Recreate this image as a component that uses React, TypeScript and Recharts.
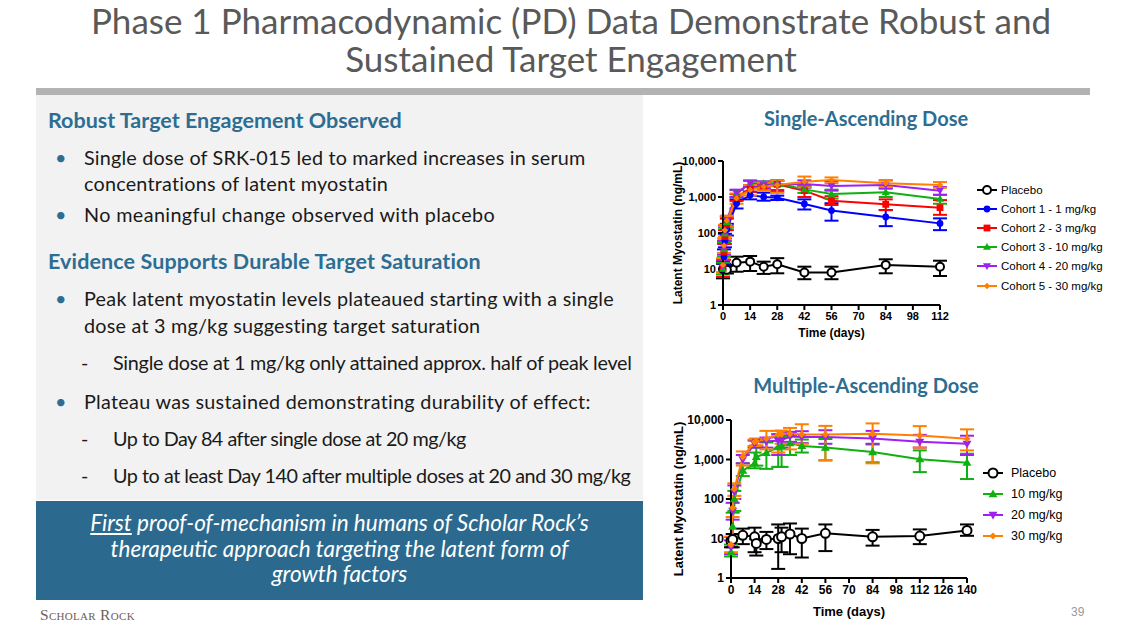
import React from 'react';
import { LineChart, Line, XAxis, YAxis, ErrorBar, Legend } from 'recharts';

// each point: [day, mean, low, high] (ng/mL)
const sadPlacebo = [
  [0, 10, 5.5, 14], [2, 9.5, 7.5, 13], [7, 15, 8.4, 22], [14, 16, 8.8, 23], [21, 11.5, 7.3, 16],
  [28, 13.5, 7.6, 20], [42, 8, 5.2, 11.6], [56, 8, 5.2, 11.6], [84, 13, 7.6, 18.6], [112, 11.5, 6.4, 17],
];
const sadCohort1 = [
  [0, 10, 6, 16], [0.5, 22, 14, 35], [1, 62, 40, 95], [2, 125, 85, 180], [7, 660, 480, 860],
  [14, 1130, 860, 1400], [21, 1000, 790, 1320], [28, 950, 825, 1090], [42, 640, 450, 860],
  [56, 420, 220, 670], [84, 280, 155, 435], [112, 185, 120, 255],
];
const sadCohort2 = [
  [0, 11, 6, 18], [0.5, 30, 18, 50], [1, 80, 50, 120], [2, 175, 120, 250], [7, 960, 780, 1200],
  [14, 1740, 1400, 2150], [21, 2060, 1750, 2400], [28, 2240, 1560, 2800], [42, 1500, 1000, 2000],
  [56, 790, 600, 1050], [84, 625, 430, 860], [112, 505, 320, 820],
];
const sadCohort3 = [
  [0, 10, 7, 15], [0.5, 35, 22, 55], [1, 95, 60, 140], [2, 200, 140, 280], [7, 1260, 1000, 1550],
  [14, 2400, 2000, 2800], [21, 2400, 2100, 2700], [28, 2400, 2000, 2800], [42, 1630, 1300, 2000],
  [56, 1210, 900, 1600], [84, 1350, 1000, 1800], [112, 880, 650, 1150],
];
const sadCohort4 = [
  [0, 12, 8, 18], [0.5, 40, 25, 60], [1, 110, 70, 160], [2, 230, 160, 300], [7, 1260, 1000, 1600],
  [14, 2400, 1900, 2900], [21, 2150, 1700, 2700], [28, 2150, 1400, 2900], [42, 2300, 1800, 2900],
  [56, 2020, 1500, 2700], [84, 2150, 1700, 2900], [112, 1500, 1150, 1900],
];
const sadCohort5 = [
  [0, 13, 8, 20], [0.5, 45, 28, 70], [1, 120, 80, 170], [2, 220, 150, 300], [7, 920, 650, 1250],
  [14, 1560, 1100, 2150], [21, 1940, 1500, 2500], [28, 2150, 1300, 2800], [42, 2670, 1850, 3700],
  [56, 2950, 2400, 3500], [84, 2400, 1900, 2900], [112, 2150, 1800, 2600],
];

const madPlacebo = [
  [0, 8.5, 6, 11], [1, 9.5, 6, 13], [7, 12, 7.2, 17.8], [14, 11, 4.5, 18.8], [15, 7.5, 3.7, 9.6],
  [21, 9.5, 5.4, 14.7], [28, 10, 1.7, 22.7], [30, 11, 4.5, 18.8], [35, 13, 4, 24], [42, 10, 3.3, 17.8],
  [56, 13.5, 4.8, 22.7], [84, 11, 6.6, 16.5], [112, 11.5, 7.2, 17], [140, 16, 11.7, 22.7],
];
const mad10 = [
  [0, 4.5, 3.5, 7], [1, 20, 10, 45], [2, 100, 50, 160], [7, 520, 380, 800], [14, 800, 600, 1500],
  [15, 1160, 700, 2000], [21, 1470, 580, 2700], [28, 2070, 650, 3800], [30, 2200, 650, 3600],
  [35, 2620, 1300, 4000], [42, 2200, 1500, 3200], [56, 2000, 950, 3300], [84, 1550, 850, 2400],
  [112, 1020, 480, 1700], [140, 830, 320, 1400],
];
const mad20 = [
  [0, 6, 4, 9], [1, 50, 30, 80], [2, 150, 100, 220], [7, 1000, 800, 1300], [14, 2500, 2000, 3000],
  [15, 2800, 2200, 3300], [21, 2900, 2000, 3600], [28, 3000, 1300, 4400], [30, 3100, 2000, 4200],
  [35, 3800, 2800, 5000], [42, 3700, 2600, 5200], [56, 3700, 2500, 5500], [84, 3400, 2500, 5300],
  [112, 2800, 2000, 4200], [140, 2500, 1300, 4000],
];
const mad30 = [
  [0, 7, 4.5, 11], [1, 60, 35, 100], [2, 180, 120, 250], [7, 1170, 700, 1600], [14, 2770, 2200, 3200],
  [15, 2900, 2300, 3400], [21, 3350, 1800, 5300], [28, 4300, 1500, 5300], [30, 4400, 2500, 5400],
  [35, 4460, 1800, 6300], [42, 4300, 2500, 7800], [56, 4300, 950, 7100], [84, 4460, 800, 8200],
  [112, 4060, 2000, 7000], [140, 3350, 1700, 5800],
];

const sadTicks = [0, 14, 28, 42, 56, 70, 84, 98, 112];
const madTicks = [0, 14, 28, 42, 56, 70, 84, 98, 112, 126, 140];
const logTicks = [1, 10, 100, 1000, 10000];

const SLIDE_FONT = 'Lato, "Open Sans", sans-serif';
const CHART_FONT = '"Liberation Sans", Arial, sans-serif';
const HEAD_BLUE = '#2e6d92';

type Shape = 'open' | 'circle' | 'square' | 'up' | 'down' | 'diamond';
interface Series { name: string; color: string; shape: Shape; pts: number[][] }

const sadSeries: Series[] = [
  { name: 'Placebo', color: '#000000', shape: 'open', pts: sadPlacebo },
  { name: 'Cohort 1 - 1 mg/kg', color: '#0000ff', shape: 'circle', pts: sadCohort1 },
  { name: 'Cohort 2 - 3 mg/kg', color: '#ff0000', shape: 'square', pts: sadCohort2 },
  { name: 'Cohort 3 - 10 mg/kg', color: '#10b010', shape: 'up', pts: sadCohort3 },
  { name: 'Cohort 4 - 20 mg/kg', color: '#a020f0', shape: 'down', pts: sadCohort4 },
  { name: 'Cohort 5 - 30 mg/kg', color: '#ff8000', shape: 'diamond', pts: sadCohort5 },
];
const madSeries: Series[] = [
  { name: 'Placebo', color: '#000000', shape: 'open', pts: madPlacebo },
  { name: '10 mg/kg', color: '#10b010', shape: 'up', pts: mad10 },
  { name: '20 mg/kg', color: '#a020f0', shape: 'down', pts: mad20 },
  { name: '30 mg/kg', color: '#ff8000', shape: 'diamond', pts: mad30 },
];

const toRows = (pts: number[][]) =>
  pts.map(([day, v, lo, hi]) => ({ day, v, err: [v - lo, hi - v] }));

function Marker({ cx, cy, shape, color, r }: { cx: number; cy: number; shape: Shape; color: string; r: number }) {
  if (cx == null || cy == null) return null;
  switch (shape) {
    case 'open':
      return <circle cx={cx} cy={cy} r={r} fill="#fff" stroke={color} strokeWidth={2} />;
    case 'circle':
      return <circle cx={cx} cy={cy} r={r * 0.85} fill={color} />;
    case 'square':
      return <rect x={cx - r * 0.85} y={cy - r * 0.85} width={r * 1.7} height={r * 1.7} fill={color} />;
    case 'up':
      return <polygon points={`${cx},${cy - r} ${cx - r},${cy + r * 0.7} ${cx + r},${cy + r * 0.7}`} fill={color} />;
    case 'down':
      return <polygon points={`${cx},${cy + r} ${cx - r},${cy - r * 0.7} ${cx + r},${cy - r * 0.7}`} fill={color} />;
    default:
      return <polygon points={`${cx},${cy - r * 0.8} ${cx + r * 0.8},${cy} ${cx},${cy + r * 0.8} ${cx - r * 0.8},${cy}`} fill={color} />;
  }
}

const fmt = (n: number) => n.toLocaleString('en-US');

interface ChartProps {
  series: Series[];
  xMax: number;
  xTicks: number[];
  width: number;
  height: number;
  margin: { top: number; right: number; bottom: number; left: number };
  yWidth: number;
  xHeight: number;
  fontSize: number;
  labelSize: number;
  markerR: number;
  yLabelX: number;
  xLabelY: number;
  legendLeft: number;
  legendTop: number;
  legendRow: number;
  legendFont: number;
}

function PdChart(p: ChartProps) {
  const tick = { fill: '#000', fontSize: p.fontSize, fontWeight: 'bold', fontFamily: CHART_FONT };
  const axisLine = { stroke: '#000', strokeWidth: 2 };
  return (
    <LineChart width={p.width} height={p.height} margin={p.margin}>
      <XAxis
        type="number"
        dataKey="day"
        domain={[0, p.xMax]}
        ticks={p.xTicks}
        interval={0}
        height={p.xHeight}
        tick={tick}
        tickSize={5}
        axisLine={axisLine}
        tickLine={{ stroke: '#000', strokeWidth: 2 }}
        allowDuplicatedCategory={false}
        label={{
          content: ({ viewBox }: any) => (
            <text x={viewBox.x + viewBox.width / 2} y={p.xLabelY} textAnchor="middle" dominantBaseline="central"
              style={{ fontFamily: CHART_FONT, fontWeight: 'bold', fontSize: p.labelSize }} fill="#000">
              Time (days)
            </text>
          ),
        }}
      />
      <YAxis
        scale="log"
        domain={[1, 10000]}
        allowDataOverflow
        ticks={logTicks}
        interval={0}
        width={p.yWidth}
        tick={tick}
        tickSize={5}
        tickFormatter={fmt}
        axisLine={axisLine}
        tickLine={{ stroke: '#000', strokeWidth: 2 }}
        label={{
          content: ({ viewBox }: any) => {
            const cy = viewBox.y + viewBox.height / 2;
            return (
              <text x={p.yLabelX} y={cy} transform={`rotate(-90 ${p.yLabelX} ${cy})`} textAnchor="middle"
                dominantBaseline="central" style={{ fontFamily: CHART_FONT, fontWeight: 'bold', fontSize: p.labelSize }} fill="#000">
                Latent Myostatin (ng/mL)
              </text>
            );
          },
        }}
      />
      <Legend
        layout="vertical"
        align="center"
        verticalAlign="middle"
        wrapperStyle={{ left: p.legendLeft, top: p.legendTop, width: 160 }}
        content={() => (
          <div style={{ fontFamily: CHART_FONT, fontSize: p.legendFont, color: '#000' }}>
            {p.series.map((s) => (
              <div key={s.name} style={{ display: 'flex', alignItems: 'center', height: p.legendRow }}>
                <svg width={20} height={12} style={{ overflow: 'visible' }}>
                  <line x1={0} x2={20} y1={6} y2={6} stroke={s.color} strokeWidth={2} />
                  <Marker cx={10} cy={6} shape={s.shape} color={s.color} r={p.markerR} />
                </svg>
                <span style={{ marginLeft: p.legendFont > 12 ? 8 : 4 }}>{s.name}</span>
              </div>
            ))}
          </div>
        )}
      />
      {p.series.map((s) => (
        <Line
          key={s.name}
          name={s.name}
          data={toRows(s.pts)}
          dataKey="v"
          type="linear"
          stroke={s.color}
          strokeWidth={2}
          isAnimationActive={false}
          dot={(d: any) => (
            <Marker key={`${s.name}-${d.index}`} cx={d.cx} cy={d.cy} shape={s.shape} color={s.color} r={p.markerR} />
          )}
          activeDot={false}
        >
          <ErrorBar dataKey="err" direction="y" width={7} stroke={s.color} strokeWidth={2} isAnimationActive={false} />
        </Line>
      ))}
    </LineChart>
  );
}

function T({ x, cy, size, lh = 26, ls = 0, children, style }: any) {
  return (
    <div style={{ position: 'absolute', left: x, top: cy - lh / 2, lineHeight: `${lh}px`, fontSize: size, letterSpacing: ls, whiteSpace: 'nowrap', ...style }}>
      {children}
    </div>
  );
}

const bulletStyle = { color: HEAD_BLUE };
const bodySize = 19.8;
const headStyle = { color: HEAD_BLUE, fontWeight: 'bold' };

export default function App() {
  return (
    <div style={{ position: 'absolute', left: 0, top: 0, width: 1129, height: 635, background: '#fff', overflow: 'hidden', fontFamily: SLIDE_FONT, color: '#1a1a1a' }}>
      <div style={{ position: 'absolute', left: 0, top: 1, width: 1142, textAlign: 'center', fontSize: 35, lineHeight: '38px', color: '#595959' }}>
        Phase 1 Pharmacodynamic (PD) Data Demonstrate Robust and<br />Sustained Target Engagement
      </div>
      <div style={{ position: 'absolute', left: 36, top: 88, width: 1054, height: 7, background: '#b3b3b3' }} />
      <div style={{ position: 'absolute', left: 36, top: 95, width: 607, height: 405, background: '#f2f2f2' }} />

      <T x={48} cy={120} size={21.5} style={headStyle}>Robust Target Engagement Observed</T>
      <T x={55} cy={157} size={bodySize} style={bulletStyle}>•</T>
      <T x={84} cy={157} size={bodySize} ls={0.18}>Single dose of SRK-015 led to marked increases in serum</T>
      <T x={84} cy={183} size={bodySize} ls={0.22}>concentrations of latent myostatin</T>
      <T x={55} cy={214} size={bodySize} style={bulletStyle}>•</T>
      <T x={84} cy={214} size={bodySize} ls={0.38}>No meaningful change observed with placebo</T>
      <T x={48} cy={261} size={21.5} ls={0.12} style={headStyle}>Evidence Supports Durable Target Saturation</T>
      <T x={55} cy={298} size={bodySize} style={bulletStyle}>•</T>
      <T x={84} cy={298} size={bodySize} ls={0.25}>Peak latent myostatin levels plateaued starting with a single</T>
      <T x={84} cy={325} size={bodySize} ls={0.22}>dose at 3 mg/kg suggesting target saturation</T>
      <T x={81} cy={362} size={bodySize}>-</T>
      <T x={113} cy={362} size={bodySize} ls={-0.27}>Single dose at 1 mg/kg only attained approx. half of peak level</T>
      <T x={55} cy={401} size={bodySize} style={bulletStyle}>•</T>
      <T x={84} cy={401} size={bodySize} ls={0.28}>Plateau was sustained demonstrating durability of effect:</T>
      <T x={81} cy={438} size={bodySize}>-</T>
      <T x={113} cy={438} size={bodySize} ls={-0.5}>Up to Day 84 after single dose at 20 mg/kg</T>
      <T x={81} cy={475} size={bodySize}>-</T>
      <T x={113} cy={475} size={bodySize} ls={-0.47}>Up to at least Day 140 after multiple doses at 20 and 30 mg/kg</T>

      <div style={{ position: 'absolute', left: 36, top: 501, width: 607, height: 99, background: '#2b6a8e', color: '#fff', fontStyle: 'italic', fontSize: 22.5, lineHeight: '25.5px', textAlign: 'center', paddingTop: 9, boxSizing: 'border-box' }}>
        <u>First</u> proof-of-mechanism in humans of Scholar Rock’s<br />
        therapeutic approach targeting the latent form of<br />
        growth factors
      </div>
      <T x={40} cy={615} size={15.5} lh={20} style={{ fontFamily: '"Liberation Serif", serif', fontVariant: 'small-caps', color: '#6d6058', letterSpacing: 0.3 }}>Scholar Rock</T>
      <T x={1071} cy={612} size={12} lh={16} style={{ color: '#9a9a9a', fontFamily: CHART_FONT }}>39</T>

      <T x={0} cy={118} size={20} style={{ width: 1732, textAlign: 'center', ...headStyle }}>Single-Ascending Dose</T>
      <T x={0} cy={385} size={20} style={{ width: 1732, textAlign: 'center', ...headStyle }}>Multiple-Ascending Dose</T>

      <div style={{ position: 'absolute', left: 670, top: 150 }}>
        <PdChart
          series={sadSeries}
          xMax={112}
          xTicks={sadTicks}
          width={459}
          height={200}
          margin={{ top: 11, right: 189, bottom: 0, left: 0 }}
          yWidth={53}
          xHeight={45}
          fontSize={11}
          labelSize={12}
          markerR={4}
          yLabelX={8}
          xLabelY={183}
          legendLeft={307}
          legendTop={30}
          legendRow={19.2}
          legendFont={11.5}
        />
      </div>
      <div style={{ position: 'absolute', left: 670, top: 408 }}>
        <PdChart
          series={madSeries}
          xMax={140}
          xTicks={madTicks}
          width={459}
          height={215}
          margin={{ top: 12, right: 162, bottom: 0, left: 0 }}
          yWidth={61}
          xHeight={45}
          fontSize={12}
          labelSize={13}
          markerR={4.5}
          yLabelX={8}
          xLabelY={203}
          legendLeft={313}
          legendTop={54}
          legendRow={21}
          legendFont={12.5}
        />
      </div>
    </div>
  );
}
